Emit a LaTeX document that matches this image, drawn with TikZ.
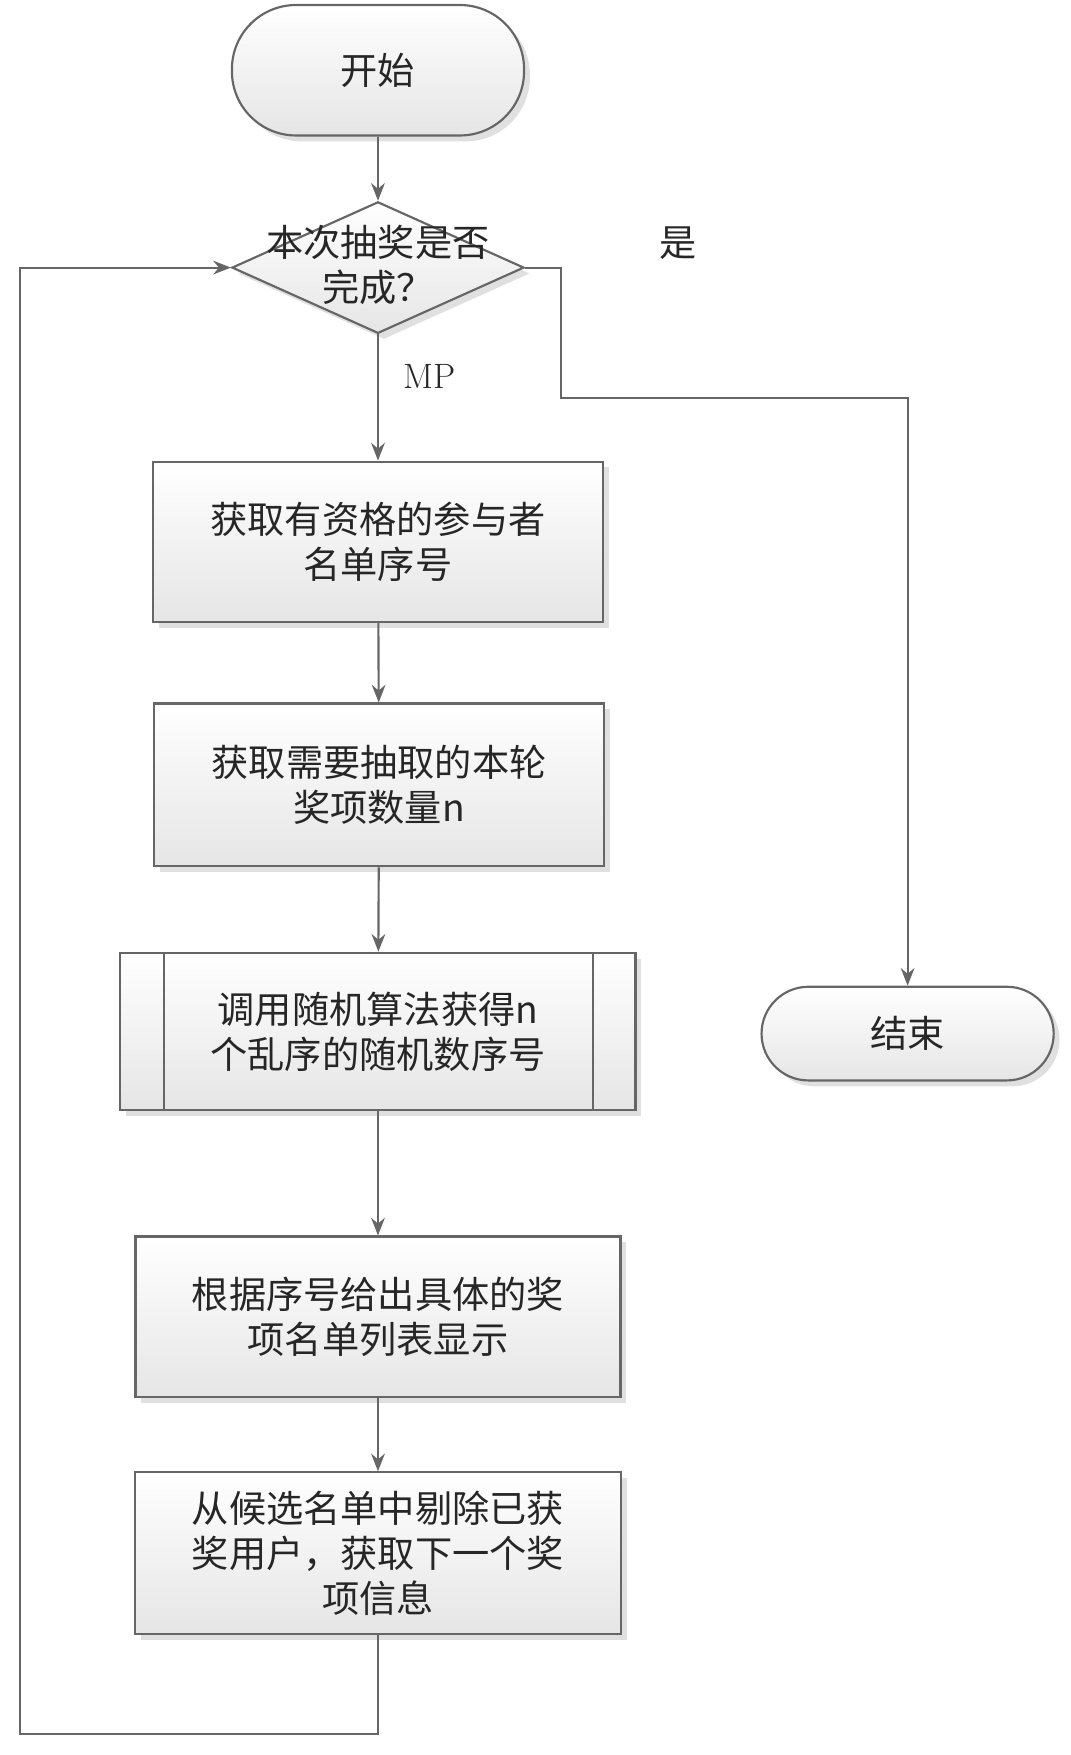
\documentclass[tikz,border=0pt]{standalone}
\usepackage{fontspec}
\newfontfamily\cjk{Noto Sans CJK SC}
\usetikzlibrary{shapes.geometric,shadows,arrows.meta}
\begin{document}
\begin{tikzpicture}[x=0.02cm, y=-0.02cm, font=\cjk\fontsize{19}{23}\selectfont,
  line/.style = {draw=black!60, line width=1.1pt},
  arr/.style = {line, -{Stealth[length=9pt,width=7pt]}},
  boxstyle/.style = {line, top color=white, bottom color=black!10, drop shadow={shadow xshift=3pt, shadow yshift=-3pt, fill=black!12, opacity=1}, align=center, text=black!85},
  termstyle/.style = {boxstyle, rounded corners=42\pgflinewidth},
  procstyle/.style = {boxstyle, rectangle, inner sep=0pt}]
\useasboundingbox (0,0) rectangle (960,1574);
\node[termstyle, rounded corners=1.15cm, minimum width=262*0.02cm, minimum height=117*0.02cm] (start) at (339,63) {开始};
\node[boxstyle, diamond, aspect=2.2, inner sep=0pt, minimum width=262*0.02cm, minimum height=118*0.02cm] (check) at (339,240) {};
\node[align=center, text=black!85] (checktext) at (339,238) {本次抽奖是否\\完成？};
\node[text=black!85] (yes) at (608,218) {是};
\node[text=black!85, font=\fontsize{18}{22}\selectfont] (no) at (385,338) {MP};
\node[procstyle, minimum width=403*0.02cm, minimum height=144*0.02cm] (list) at (339,486) {获取有资格的参与者\\名单序号};
\node[procstyle, minimum width=404*0.02cm, minimum height=146*0.02cm] (count) at (340,704) {获取需要抽取的本轮\\奖项数量n};
\node[procstyle, minimum width=462*0.02cm, minimum height=141*0.02cm] (random) at (339,925) {调用随机算法获得n\\个乱序的随机数序号};
\draw[line] (147,855) -- (147,996) (532,855) -- (532,996);
\node[procstyle, minimum width=435*0.02cm, minimum height=144*0.02cm] (show) at (339,1181) {根据序号给出具体的奖\\项名单列表显示};
\node[procstyle, minimum width=436*0.02cm, minimum height=145*0.02cm] (remove) at (339,1393) {从候选名单中剔除已获\\奖用户，获取下一个奖\\项信息};
\node[termstyle, rounded corners=0.84cm, minimum width=262*0.02cm, minimum height=84*0.02cm] (finish) at (814,927) {结束};
\coordinate (loop) at (18,1555);
\draw[arr] (start) -- (check);
\draw[arr] (check) -- (list);
\draw[arr] (list) -- (count);
\draw[arr] (count) -- (random);
\draw[arr] (random) -- (show);
\draw[arr] (show) -- (remove);
\draw[arr] (check.east) -- (503,240) -- (503,357) -- (814,357) -- (finish.north);
\draw[arr] (remove.south) -- (339,1555) -- (loop) -- (18,240) -- (check.west);
\end{tikzpicture}
\end{document}
